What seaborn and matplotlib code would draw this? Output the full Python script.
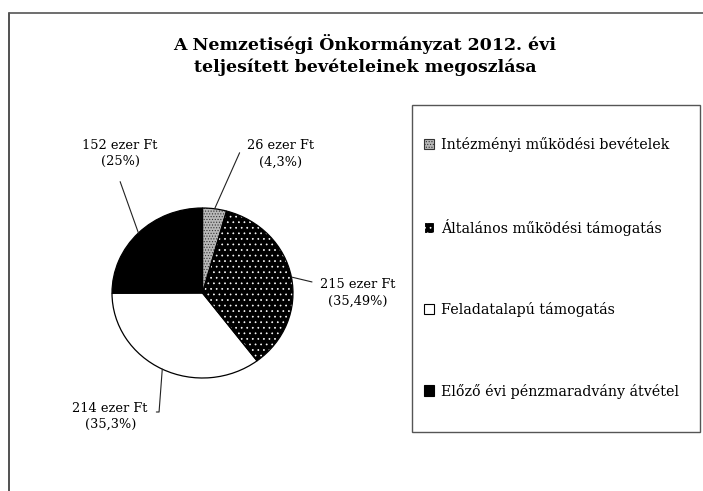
import matplotlib
matplotlib.use("Agg")
import matplotlib.pyplot as plt
import matplotlib.patches as mpatches
from matplotlib.lines import Line2D
import numpy as np
import seaborn as sns

title = "A Nemzetiségi Önkormányzat 2012. évi\nteljesített bevételeinek megoszlása"
categories = ["Intézményi működési bevételek", "Általános működési támogatás",
              "Feladatalapú támogatás", "Előző évi pénzmaradvány átvétel"]
values = [26, 215, 214, 152]
value_labels = ["26 ezer Ft\n(4,3%)", "215 ezer Ft\n(35,49%)",
                "214 ezer Ft\n(35,3%)", "152 ezer Ft\n(25%)"]

sns.set_theme(style="white")
plt.rcParams["font.family"] = ["DejaVu Serif"]
plt.rcParams["hatch.linewidth"] = 0.5

W, H = 703, 491
fig = plt.figure(figsize=(W / 100, H / 100), dpi=100)
fig.patch.set_facecolor("white")


def fx(x):
    return x / W


def fy(y):
    return 1 - y / H


# pie centre / scale in pixels (the scanned pie is slightly squashed)
cx, cy, sx, sy = 202.5, 293, 90.5, 85
ax = fig.add_axes([0, 0, 1, 1])

faces = ["#b8b8b8", "black", "white", "black"]
hatches = ["......", "...", None, None]
hatch_cols = ["#333333", "white", "black", "black"]

wedges, _ = ax.pie(values, startangle=90, counterclock=False,
                   wedgeprops=dict(linewidth=0))
for w, fc, h, hc in zip(wedges, faces, hatches, hatch_cols):
    w.set_facecolor(fc)
    w.set_edgecolor(hc)
    w.set_hatch(h)

# outlines on top
ax.pie(values, startangle=90, counterclock=False,
       wedgeprops=dict(facecolor="none", edgecolor="black", linewidth=0.9))

ax.set_aspect("auto")
ax.set_xlim(-cx / sx, (W - cx) / sx)
ax.set_ylim((cy - H) / sy, cy / sy)
ax.axis("off")

# label layout: text centre and leader bend points (data units)
label_pos = [(0.86, 1.64), (1.72, 0.0), (-1.02, -1.45), (-0.91, 1.64)]
leader_pts = [[(0.41, 1.65)], [(1.21, 0.13)],
              [(-0.48, -1.40), (-0.51, -1.40)], [(-0.91, 1.31)]]

for w, txt, pos, pts in zip(wedges, value_labels, label_pos, leader_pts):
    mid = np.deg2rad((w.theta1 + w.theta2) / 2)
    xs = [np.cos(mid)] + [p[0] for p in pts]
    ys = [np.sin(mid)] + [p[1] for p in pts]
    ax.plot(xs, ys, color="#222222", lw=0.8)
    ax.text(pos[0], pos[1], txt, ha="center", va="center",
            multialignment="center", fontsize=9.3, linespacing=1.35,
            color="black")

fig.text(fx(365), fy(55), title, ha="center", va="center", color="black",
         fontsize=12.5, fontweight="bold", linespacing=1.3)

handles = []
for fc, h, hc in zip(faces, hatches, hatch_cols):
    handles.append(mpatches.Patch(facecolor=fc, hatch=h, edgecolor=hc,
                                  linewidth=0.8))
handles[1].set_edgecolor("white")
fig.legend(handles, categories, loc="upper left",
           bbox_to_anchor=(fx(424), fy(137)), frameon=False,
           handlelength=0.72, handleheight=0.72, handletextpad=0.45,
           labelspacing=4.65, fontsize=10.3, borderaxespad=0, borderpad=0,
           labelcolor="black")

fig.add_artist(mpatches.Rectangle((fx(412), fy(432)), fx(700) - fx(412),
                                  fy(105) - fy(432), transform=fig.transFigure,
                                  fill=False, edgecolor="#555555", lw=1))
fig.add_artist(Line2D([fx(9), fx(9)], [fy(13), 0], color="#333333", lw=1.2))
fig.add_artist(Line2D([fx(9), 1], [fy(13), fy(13)], color="#555555", lw=1.2))

fig.savefig("out.png", dpi=100)
